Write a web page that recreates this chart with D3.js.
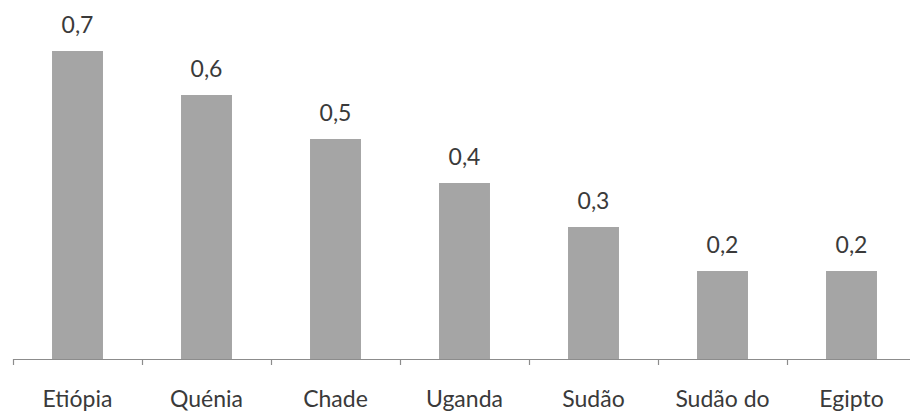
<!DOCTYPE html>
<html>
<head>
<meta charset="utf-8">
<script src="https://cdn.jsdelivr.net/npm/d3@7"></script>
<style>
  html, body { margin: 0; padding: 0; background: #fff; }
  svg { display: block; }
  text { font-family: Lato, "Open Sans", sans-serif; fill: #3a3a3a; }
</style>
</head>
<body>
<svg id="chart" width="910" height="414"></svg>
<script>
// Countries
const categories = ["Etiópia", "Quénia", "Chade", "Uganda", "Sudão", "Sudão do Sul", "Egipto"];
// Axis labels as shown under each bar (first line only for the wrapped one)
const tickLabels = ["Etiópia", "Quénia", "Chade", "Uganda", "Sudão", "Sudão do", "Egipto"];
// Values per country
const values = [0.7, 0.6, 0.5, 0.4, 0.3, 0.2, 0.2];
// Printed labels above the bars
const valueLabels = ["0,7", "0,6", "0,5", "0,4", "0,3", "0,2", "0,2"];

const svg = d3.select("#chart");
const baseY = 359;

const x = d3.scaleBand()
  .domain(categories)
  .range([13, 916])
  .paddingInner(0.605)
  .paddingOuter(0.3025);

const y = d3.scaleLinear()
  .domain([0, 0.8])
  .range([baseY, baseY - 352]);

const step = x.step();

// Bars
svg.append("g")
  .selectAll("rect")
  .data(values)
  .join("rect")
  .attr("x", (d, i) => x(categories[i]))
  .attr("y", d => y(d))
  .attr("width", x.bandwidth())
  .attr("height", d => y(0) - y(d))
  .attr("fill", "#a5a5a5");

// Value labels
svg.append("g")
  .selectAll("text")
  .data(values)
  .join("text")
  .attr("x", (d, i) => x(categories[i]) + x.bandwidth() / 2)
  .attr("y", d => y(d) - 18)
  .attr("text-anchor", "middle")
  .attr("font-size", 23)
  .text((d, i) => valueLabels[i]);

// Category axis: baseline with ticks between categories
const axis = svg.append("g");
axis.append("line")
  .attr("x1", x.range()[0]).attr("x2", x.range()[1])
  .attr("y1", baseY + 0.5).attr("y2", baseY + 0.5)
  .attr("stroke", "#8c8c8c").attr("stroke-width", 1.2);

const tickXs = categories.map(c => x(c) - step * x.paddingOuter());
axis.selectAll("line.tick")
  .data(tickXs)
  .join("line")
  .attr("class", "tick")
  .attr("x1", d => Math.round(d) + 0.5).attr("x2", d => Math.round(d) + 0.5)
  .attr("y1", baseY).attr("y2", baseY + 6)
  .attr("stroke", "#8c8c8c").attr("stroke-width", 1.2);

// Category labels
axis.selectAll("text")
  .data(categories)
  .join("text")
  .attr("x", c => x(c) + x.bandwidth() / 2)
  .attr("y", 407)
  .attr("text-anchor", "middle")
  .attr("font-size", 23)
  .text((c, i) => tickLabels[i]);
</script>
</body>
</html>
